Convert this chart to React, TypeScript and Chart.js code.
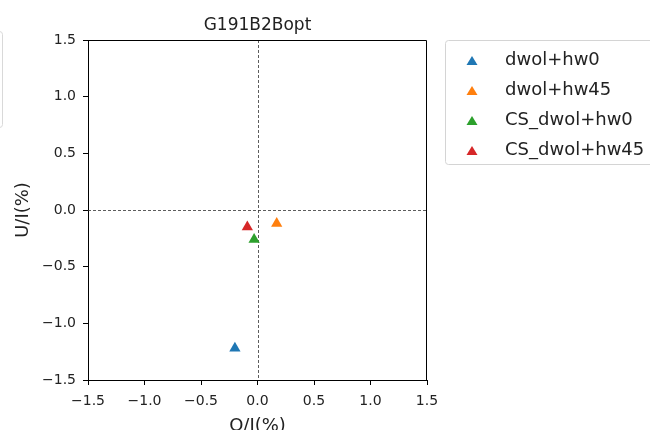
import React, { useEffect, useRef } from "react";
import { Chart, registerables } from "chart.js";

Chart.register(...registerables);

// Polarisation measurements (percent) for each reduction variant
const seriesNames = ["dwol+hw0", "dwol+hw45", "CS_dwol+hw0", "CS_dwol+hw45"];
const qValues = [-0.2, 0.17, -0.03, -0.09];
const uValues = [-1.22, -0.12, -0.26, -0.15];
const seriesColors = ["#1f77b4", "#ff7f0e", "#2ca02c", "#d62728"];
const axisMin = -1.5;
const axisMax = 1.5;
const axisStep = 0.5;
const chartTitle = "G191B2Bopt";
const xLabel = "Q/I(%)";
const yLabel = "U/I(%)";

const FONT = "'DejaVu Sans', sans-serif";

const fmtTick = (v: number | string) => Number(v).toFixed(1).replace("-", "\u2212");

const decorPlugin = {
  id: "decor",
  beforeDatasetsDraw(chart: any) {
    const { ctx, chartArea, scales } = chart;
    const x0 = Math.round(scales.x.getPixelForValue(0)) + 0.5;
    const y0 = Math.round(scales.y.getPixelForValue(0)) + 0.5;
    ctx.save();
    ctx.strokeStyle = "#333";
    ctx.lineWidth = 0.8;
    ctx.setLineDash([3, 2]);
    ctx.beginPath();
    ctx.moveTo(x0, chartArea.top);
    ctx.lineTo(x0, chartArea.bottom);
    ctx.moveTo(chartArea.left, y0);
    ctx.lineTo(chartArea.right, y0);
    ctx.stroke();
    ctx.restore();
  },
  afterDraw(chart: any) {
    const { ctx, chartArea } = chart;
    ctx.save();
    // top and right sides of the axes frame
    ctx.strokeStyle = "#000";
    ctx.lineWidth = 1;
    const t = Math.round(chartArea.top) + 0.5;
    const r = Math.round(chartArea.right) - 0.5;
    ctx.beginPath();
    ctx.moveTo(chartArea.left, t);
    ctx.lineTo(r, t);
    ctx.lineTo(r, chartArea.bottom);
    ctx.stroke();

    // title
    ctx.fillStyle = "#222";
    ctx.font = `17px ${FONT}`;
    ctx.textAlign = "center";
    ctx.textBaseline = "alphabetic";
    ctx.fillText(chartTitle, (chartArea.left + chartArea.right) / 2, 30);

    const rr = (x: number, y: number, w: number, h: number, rad: number) => {
      ctx.beginPath();
      ctx.moveTo(x + rad, y);
      ctx.lineTo(x + w - rad, y);
      ctx.arcTo(x + w, y, x + w, y + rad, rad);
      ctx.lineTo(x + w, y + h - rad);
      ctx.arcTo(x + w, y + h, x + w - rad, y + h, rad);
      ctx.lineTo(x + rad, y + h);
      ctx.arcTo(x, y + h, x, y + h - rad, rad);
      ctx.lineTo(x, y + rad);
      ctx.arcTo(x, y, x + rad, y, rad);
      ctx.closePath();
    };
    // neighbouring legend frame at the left edge
    ctx.strokeStyle = "#d9d9d9";
    rr(-100.5, 31.5, 103, 96, 3);
    ctx.stroke();

    // legend
    rr(445.5, 40.5, 230, 124, 3);
    ctx.fillStyle = "rgba(255,255,255,0.8)";
    ctx.fill();
    ctx.strokeStyle = "#d4d4d4";
    ctx.stroke();
    ctx.font = `18px ${FONT}`;
    ctx.textAlign = "left";
    seriesNames.forEach((name, i) => {
      const cy = 61 + i * 30;
      ctx.fillStyle = seriesColors[i];
      ctx.beginPath();
      ctx.moveTo(472, cy - 5);
      ctx.lineTo(477.5, cy + 4);
      ctx.lineTo(466.5, cy + 4);
      ctx.closePath();
      ctx.fill();
      ctx.fillStyle = "#222";
      ctx.fillText(name, 505, 65 + i * 30);
    });
    ctx.restore();
  },
};

export default function App() {
  const ref = useRef<HTMLCanvasElement>(null);

  useEffect(() => {
    if (!ref.current) return;
    const axis = (title: string, pad: any, tickPad: number) => ({
      type: "linear" as const,
      min: axisMin,
      max: axisMax,
      ticks: {
        stepSize: axisStep,
        color: "#222",
        font: { family: FONT, size: 14 },
        padding: tickPad,
        callback: fmtTick,
      },
      grid: {
        drawOnChartArea: false,
        drawTicks: true,
        tickLength: 5,
        tickColor: "#000",
        color: "#000",
      },
      border: { display: true, color: "#000", width: 1 },
      title: {
        display: true,
        text: title,
        color: "#222",
        font: { family: FONT, size: 18 },
        padding: pad,
      },
    });

    const chart = new Chart(ref.current, {
      type: "scatter",
      data: {
        datasets: seriesNames.map((name, i) => ({
          label: name,
          data: [{ x: qValues[i], y: uValues[i] }],
          pointStyle: "triangle",
          pointRadius: 6.5,
          backgroundColor: seriesColors[i],
          borderColor: seriesColors[i],
          borderWidth: 0,
        })),
      },
      options: {
        responsive: false,
        animation: false,
        layout: { padding: { left: 0, top: 40, right: 223, bottom: 0 } },
        plugins: {
          legend: { display: false },
          title: { display: false },
          tooltip: { enabled: false },
        },
        scales: {
          x: {
            ...axis(xLabel, { top: 0, bottom: -7 }, 8),
            position: "bottom",
            afterFit: (s: any) => {
              s.height = 50;
            },
          },
          y: {
            ...axis(yLabel, { top: 13, bottom: 0 }, 7),
            position: "left",
            afterFit: (s: any) => {
              s.width = 88;
            },
          },
        },
      },
      plugins: [decorPlugin],
    } as any);
    return () => chart.destroy();
  }, []);

  return (
    <div style={{ position: "fixed", left: 0, top: 0, width: 650, height: 430, background: "#fff", overflow: "hidden" }}>
      <canvas ref={ref} width={650} height={430} style={{ display: "block" }} />
    </div>
  );
}
